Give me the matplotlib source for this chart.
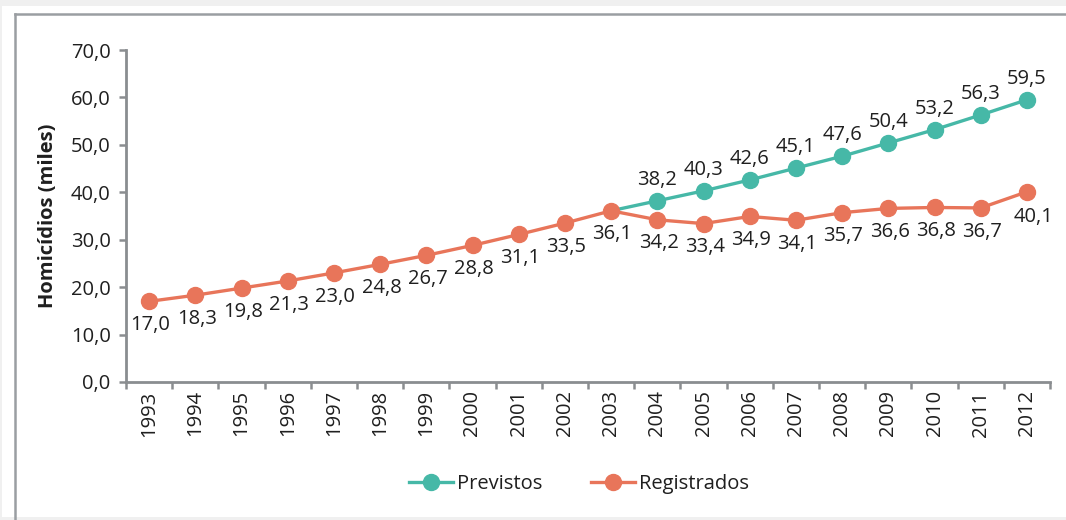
import matplotlib
matplotlib.use("Agg")
import matplotlib.pyplot as plt
from matplotlib.patches import Rectangle
from matplotlib.lines import Line2D

years = [str(y) for y in range(1993, 2013)]
registrados = [17.0, 18.3, 19.8, 21.3, 23.0, 24.8, 26.7, 28.8, 31.1, 33.5,
               36.1, 34.2, 33.4, 34.9, 34.1, 35.7, 36.6, 36.8, 36.7, 40.1]
# previstos starts from the 2003 registered value
previstos_years = years[10:]
previstos = [36.1, 38.2, 40.3, 42.6, 45.1, 47.6, 50.4, 53.2, 56.3, 59.5]
yticks = [0, 10, 20, 30, 40, 50, 60, 70]

TEAL = "#46b8a7"
ORANGE = "#e8755a"
GRAY = "#8a8d90"
TEXT = "#1f1f1f"
FS = 14.5

plt.rcParams["font.family"] = ["Open Sans", "DejaVu Sans"]

fig = plt.figure(figsize=(10.66, 5.20), dpi=100)
fig.patch.set_facecolor("#f0f0f0")

# white panel + frame (top and left edges only)
fig.patches.append(Rectangle((2 / 1066, 3 / 520), 1.0, 511 / 520,
                             transform=fig.transFigure, facecolor="white",
                             edgecolor="none", zorder=-2))
fx, fy = 15 / 1066, 506 / 520
fig.lines.append(Line2D([fx, 1.0], [fy, fy], transform=fig.transFigure,
                        color="#9a9ea2", linewidth=1.8, zorder=-1))
fig.lines.append(Line2D([fx, fx], [0.0, fy], transform=fig.transFigure,
                        color="#9a9ea2", linewidth=1.8, zorder=-1))

ax = fig.add_axes([126 / 1066, 138 / 520, 924 / 1066, 332 / 520])
ax.set_zorder(5)
ax.set_facecolor("none")

x_reg = list(range(len(years)))
x_prev = [years.index(y) for y in previstos_years]

ax.plot(x_prev, previstos, color=TEAL, linewidth=2.4, marker="o",
        markersize=11.5, label="Previstos", zorder=3,
        markevery=list(range(1, len(previstos))))
ax.plot(x_reg, registrados, color=ORANGE, linewidth=2.4, marker="o",
        markersize=11.5, label="Registrados", zorder=4)

# data labels
reg_offsets = {19: (5, -18)}
for i, v in enumerate(registrados):
    dx, dy = reg_offsets.get(i, (1, -17))
    ax.annotate(f"{v:.1f}".replace(".", ","), (x_reg[i], v),
                xytext=(dx, dy), textcoords="offset points",
                ha="center", va="center", fontsize=FS, color=TEXT,
                annotation_clip=False)
for i, v in enumerate(previstos):
    if i == 0:
        continue
    ax.annotate(f"{v:.1f}".replace(".", ","), (x_prev[i], v),
                xytext=(0, 15), textcoords="offset points",
                ha="center", va="center", fontsize=FS, color=TEXT,
                annotation_clip=False)

ax.set_xlim(-0.5, len(years) - 0.5)
ax.set_ylim(0, 70)
ax.set_yticks(yticks)
ax.set_yticklabels([f"{t:.1f}".replace(".", ",") for t in yticks],
                   fontsize=FS, color=TEXT)
ax.set_xticks(x_reg)
ax.set_xticklabels(years, rotation=90, fontsize=FS, color=TEXT)
ax.set_xticks([i - 0.5 for i in range(len(years) + 1)], minor=True)
ax.tick_params(axis="x", which="major", length=0, pad=6)
ax.tick_params(axis="x", which="minor", length=5, width=1.8, color=GRAY)
ax.tick_params(axis="y", length=5, width=1.8, color=GRAY, pad=6)

for side in ("top", "right"):
    ax.spines[side].set_visible(False)
for side in ("left", "bottom"):
    ax.spines[side].set_color(GRAY)
    ax.spines[side].set_linewidth(2)

ax.set_ylabel("Homicídios (miles)", fontsize=14.5, fontweight="bold",
              color=TEXT, labelpad=9)

leg = fig.legend(loc="center", bbox_to_anchor=(0.543, 0.07), ncol=2,
                 frameon=False, fontsize=FS, handlelength=2.2,
                 columnspacing=2.4, handletextpad=0.2)
for t in leg.get_texts():
    t.set_color(TEXT)

fig.savefig("out.png", dpi=100, facecolor=fig.get_facecolor())
